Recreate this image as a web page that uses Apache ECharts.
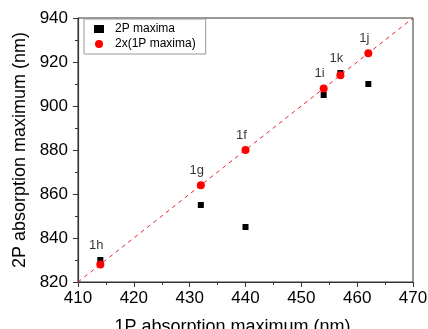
<!DOCTYPE html>
<html><head><meta charset="utf-8">
<script src="https://cdn.jsdelivr.net/npm/echarts@6/dist/echarts.min.js"></script>
<style>html,body{margin:0;padding:0;background:#fff}#c{width:428px;height:329px}</style>
</head><body><div id="c"></div>
<script>
const compounds = ['1h', '1g', '1f', '1i', '1k', '1j'];
const onePMax = [414, 432, 440, 454, 457, 462];
const twoPMax = [830, 855, 845, 905, 915, 910];
const twoTimesOneP = [828, 864, 880, 908, 914, 924];
const xTicks = [410, 420, 430, 440, 450, 460, 470];
const yTicks = [820, 840, 860, 880, 900, 920, 940];
const refLineX = [410, 470];

const font = 'Liberation Sans, Arial, sans-serif';
const chart = echarts.init(document.getElementById('c'));
chart.setOption({
  animation: false,
  grid: { left: 78, right: 15, top: 18, bottom: 47, show: true, borderColor: '#333', borderWidth: 1, outerBoundsMode: 'none', containLabel: false },
  legend: {
    left: 84, top: 19, orient: 'vertical', itemGap: 3,
    padding: [4, 10, 4, 10],
    borderColor: '#999', borderWidth: 1, backgroundColor: '#fff',
    itemWidth: 10, itemHeight: 8,
    textStyle: { fontFamily: font, fontSize: 12, color: '#000', padding: [0, 0, 0, 6] },
    data: [{ name: '2P maxima', icon: 'rect' }, { name: '2x(1P maxima)', icon: 'circle' }]
  },
  xAxis: {
    type: 'value', min: xTicks[0], max: xTicks[xTicks.length - 1], interval: 10,
    name: '1P absorption maximum (nm)', nameLocation: 'middle', nameGap: 36,
    nameTextStyle: { fontFamily: font, fontSize: 18, color: '#000', padding: [0, 26, 0, 0] },
    axisLine: { show: true, onZero: false, lineStyle: { color: '#333', width: 1.2 } },
    axisTick: { show: true, inside: false, length: 5, lineStyle: { color: '#333' } },
    minorTick: { show: true, splitNumber: 2, length: 3, lineStyle: { color: '#333' } },
    axisLabel: { fontFamily: font, fontSize: 17, color: '#000', margin: 8 },
    splitLine: { show: false }
  },
  yAxis: {
    type: 'value', min: yTicks[0], max: yTicks[yTicks.length - 1], interval: 20,
    name: '2P absorption maximum (nm)', nameLocation: 'middle', nameGap: 47,
    nameTextStyle: { fontFamily: font, fontSize: 18, color: '#000' },
    axisLine: { show: true, onZero: false, lineStyle: { color: '#333', width: 1.2 } },
    axisTick: { show: true, inside: false, length: 5, lineStyle: { color: '#333' } },
    minorTick: { show: true, splitNumber: 2, length: 3, lineStyle: { color: '#333' } },
    axisLabel: { fontFamily: font, fontSize: 17, color: '#000', margin: 10 },
    splitLine: { show: false }
  },
  series: [
    {
      name: 'ref', type: 'line', symbol: 'none', silent: true,
      data: refLineX.map(x => [x, 2 * x]),
      lineStyle: { color: '#e8232a', width: 1, type: [4, 4] }, z: 1
    },
    {
      name: '2P maxima', type: 'scatter', symbol: 'rect', symbolSize: 6,
      itemStyle: { color: '#000', opacity: 1 },
      data: onePMax.map((x, i) => [x, twoPMax[i]]), z: 3
    },
    {
      name: '2x(1P maxima)', type: 'scatter', symbol: 'circle', symbolSize: 8,
      itemStyle: { color: '#ff0000', opacity: 1 },
      data: onePMax.map((x, i) => [x, twoTimesOneP[i]]), z: 4
    },
    {
      name: 'labels', type: 'scatter', symbolSize: 0, silent: true,
      data: onePMax.map((x, i) => ({ value: [x, Math.max(twoPMax[i], twoTimesOneP[i])], name: compounds[i] })),
      label: {
        show: true, position: 'top', distance: 8, offset: [-4, 0],
        formatter: p => p.name,
        fontFamily: font, fontSize: 13, color: '#000'
      }, z: 5
    }
  ]
});
</script>
</body></html>
